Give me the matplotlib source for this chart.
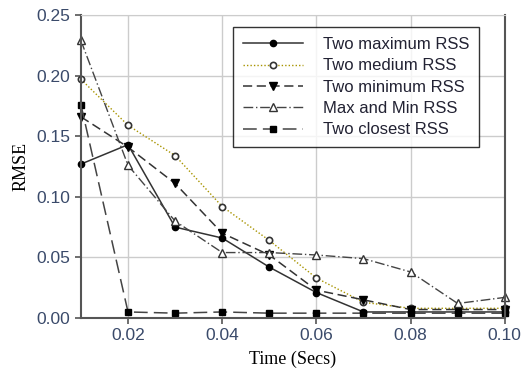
import numpy as np
import matplotlib
matplotlib.use('Agg')
import matplotlib.pyplot as plt

time = [0.01, 0.02, 0.03, 0.04, 0.05, 0.06, 0.07, 0.08, 0.09, 0.10]
two_max = [0.127, 0.143, 0.075, 0.066, 0.042, 0.021, 0.005, 0.005, 0.005, 0.005]
two_medium = [0.197, 0.159, 0.134, 0.092, 0.064, 0.033, 0.013, 0.008, 0.008, 0.008]
two_min = [0.166, 0.141, 0.111, 0.070, 0.052, 0.023, 0.015, 0.007, 0.007, 0.007]
max_and_min = [0.229, 0.126, 0.080, 0.054, 0.054, 0.052, 0.049, 0.038, 0.012, 0.017]
two_closest = [0.176, 0.005, 0.004, 0.005, 0.004, 0.004, 0.004, 0.004, 0.004, 0.004]

plt.rcParams['font.family'] = ['Liberation Sans', 'DejaVu Sans']
tick_color = '#3a4a6a'

fig = plt.figure(figsize=(5.22, 3.85), dpi=100)
ax = fig.add_axes([0.155, 0.174, 0.812, 0.787])

ax.plot(time, two_max, color='#333333', lw=1.1, ls='-', marker='o', ms=4.5,
        mfc='black', mec='black', label='Two maximum RSS', clip_on=False)
ax.plot(time, two_medium, color='#a89400', lw=1.0, ls=(0, (1, 1.5)), marker='o', ms=4.5,
        mfc='white', mec='#333333', mew=1.2, label='Two medium RSS', clip_on=False)
ax.plot(time, two_min, color='#333333', lw=1.1, ls=(0, (6, 3)), marker='v', ms=5.5,
        mfc='black', mec='black', label='Two minimum RSS', clip_on=False)
ax.plot(time, max_and_min, color='#444444', lw=1.0, ls=(0, (7, 2, 1, 2)), marker='^', ms=5.5,
        mfc='white', mec='#333333', label='Max and Min RSS', clip_on=False)
ax.plot(time, two_closest, color='#444444', lw=1.1, ls=(0, (9, 4)), marker='s', ms=5,
        mfc='black', mec='black', label='Two closest RSS', clip_on=False)

ax.set_xlim(0.01, 0.10)
ax.set_ylim(0, 0.25)
ax.set_xticks([0.02, 0.04, 0.06, 0.08, 0.10])
ax.set_yticks([0.0, 0.05, 0.10, 0.15, 0.20, 0.25])
ax.set_xticklabels(['0.02', '0.04', '0.06', '0.08', '0.10'])
ax.set_yticklabels(['0.00', '0.05', '0.10', '0.15', '0.20', '0.25'])
ax.grid(True, color='#cccccc', lw=1.0)
ax.set_axisbelow(True)

for s in ['left', 'bottom', 'right']:
    ax.spines[s].set_color('#555555')
    ax.spines[s].set_linewidth(1.5)
ax.spines['top'].set_color('#cccccc')
ax.tick_params(axis='both', colors='#555555', labelcolor=tick_color, labelsize=12.5,
               length=4, width=1.2)

ax.set_xlabel('Time (Secs)', family='Liberation Serif', fontsize=13, labelpad=5)
ax.set_ylabel('RMSE', family='Liberation Serif', fontsize=13, labelpad=5)

leg = ax.legend(loc='upper right', bbox_to_anchor=(0.94, 0.96), fontsize=12,
                frameon=True, fancybox=False, edgecolor='black', handlelength=3.6,
                labelspacing=0.38, borderpad=0.6, handletextpad=1.2, borderaxespad=0)
leg.get_frame().set_linewidth(1.0)
for t in leg.get_texts():
    t.set_color('#222233')

fig.savefig('out.png', dpi=100)
